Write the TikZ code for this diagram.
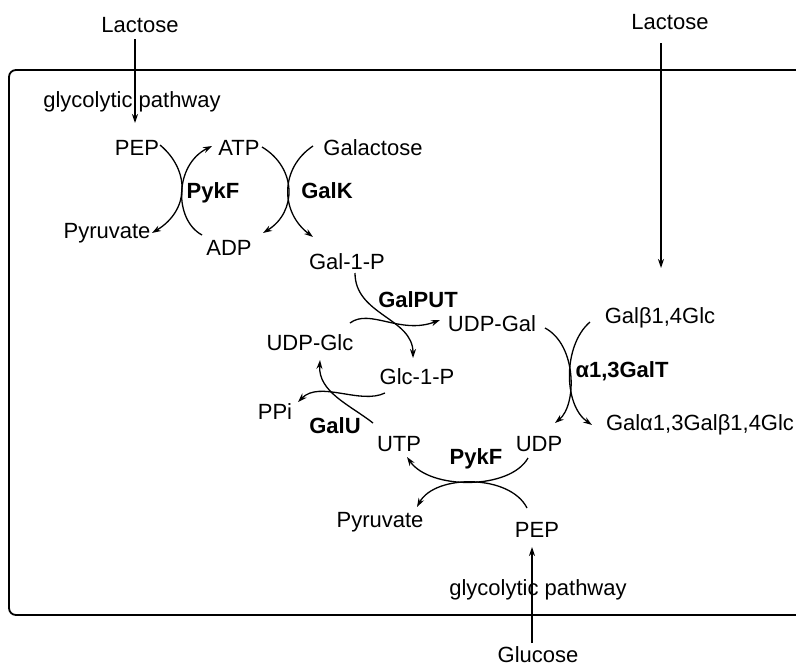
\documentclass[tikz,border=0pt]{standalone}
\usepackage{fontspec}
\setmainfont{Liberation Sans}
\usetikzlibrary{arrows.meta,calc}

\begin{document}
\begin{tikzpicture}[x=1pt,y=-1pt,
  lbl/.style={inner sep=0pt,outer sep=0pt,anchor=base,font=\fontsize{22}{26}\selectfont},
  enz/.style={lbl,font=\fontsize{22}{26}\selectfont\bfseries},
  flow/.style={line width=1.3pt,-{Stealth[length=9pt,width=6pt]}},
  cell/.style={line width=1.8pt,rounded corners=7pt}]

\useasboundingbox (0,0) rectangle (796,665);

% cell membrane, open to the right
\draw[cell] (800,70) -- (9,70) -- (9,615) -- (800,615);

% metabolites
\node[lbl] (lacL)   at (140,32)  {Lactose};
\node[lbl] (lacR)   at (670,29)  {Lactose};
\node[lbl] (glyA)   at (132,107) {glycolytic pathway};
\node[lbl] (pepA)   at (137,155) {PEP};
\node[lbl] (atp)    at (239,155) {ATP};
\node[lbl] (galac)  at (373,155) {Galactose};
\node[lbl] (pyrA)   at (107,238) {Pyruvate};
\node[lbl] (adp)    at (229,255) {ADP};
\node[lbl] (gal1p)  at (347,269) {Gal-1-P};
\node[lbl] (udpgal) at (492,331) {UDP-Gal};
\node[lbl] (udpglc) at (310,350) {UDP-Glc};
\node[lbl] (glc1p)  at (417,384) {Glc-1-P};
\node[lbl] (ppi)    at (275,419) {PPi};
\node[lbl] (utp)    at (399,451) {UTP};
\node[lbl] (udp)    at (539,451) {UDP};
\node[lbl] (pyrB)   at (380,527) {Pyruvate};
\node[lbl] (pepB)   at (537,537) {PEP};
\node[lbl] (glyB)   at (538,595) {glycolytic pathway};
\node[lbl] (gluc)   at (538,662) {Glucose};
\node[lbl] (lacto)  at (660,323) {Galβ1,4Glc};
\node[lbl] (prod)   at (700,430) {Galα1,3Galβ1,4Glc};

% enzymes
\node[enz] (pykA)   at (213,198) {PykF};
\node[enz] (galK)   at (327,198) {GalK};
\node[enz] (galput) at (418,307) {GalPUT};
\node[enz] (galU)   at (335,433) {GalU};
\node[enz] (pykB)   at (476,464) {PykF};
\node[enz] (galt)   at (622,377) {α1,3GalT};

% uptake and supply
\draw[flow] ($(lacL.base)+(-5,7)$) -- ($(pepA.base)+(-2,-32)$);
\draw[flow] ($(lacR.base)+(-9,14)$) -- ($(lacto.base)+(1,-55)$);
\draw[flow] ($(gluc.base)+(-6,-19)$) -- ($(pepB.base)+(-5,10)$);

% PykF (top)
\draw[flow] ($(pepA.base)+(23,-10)$) .. controls (190,170) and (190,210) .. ($(pyrA.base)+(45,-5)$);
\draw[flow] ($(adp.base)+(-27,-20)$) .. controls (174,220) and (174,165) .. ($(atp.base)+(-27,-9)$);

% GalK
\draw[flow] ($(atp.base)+(23,-8)$) .. controls (297,168) and (297,212) .. ($(adp.base)+(34,-22)$);
\draw[flow] ($(galac.base)+(-60,-9)$) .. controls (280,168) and (280,212) .. ($(gal1p.base)+(-34,-32)$);

% GalPUT
\draw[flow] ($(gal1p.base)+(8,4)$) .. controls (355,315) and (413,318) .. ($(glc1p.base)+(-4,-26)$);
\draw[flow] ($(udpglc.base)+(40,-27)$) .. controls (370,308) and (400,335) .. ($(udpgal.base)+(-52,-11)$);

% GalU
\draw[flow] ($(glc1p.base)+(-32,9)$) .. controls (360,405) and (320,380) .. ($(ppi.base)+(23,-17)$);
\draw[flow] ($(utp.base)+(-26,-28)$) .. controls (350,405) and (318,392) .. ($(udpglc.base)+(10,10)$);

% PykF (bottom)
\draw[flow] ($(udp.base)+(-11,7)$) .. controls (510,490) and (430,490) .. ($(utp.base)+(8,6)$);
\draw[flow] ($(pepB.base)+(-10,-29)$) .. controls (510,474) and (435,474) .. ($(pyrB.base)+(37,-20)$);

% alpha1,3GalT
\draw[flow] ($(udpgal.base)+(53,-3)$) .. controls (577,345) and (577,405) .. ($(udp.base)+(16,-28)$);
\draw[flow] ($(lacto.base)+(-70,-1)$) .. controls (563,345) and (563,405) .. ($(prod.base)+(-108,-5)$);
\end{tikzpicture}
\end{document}
